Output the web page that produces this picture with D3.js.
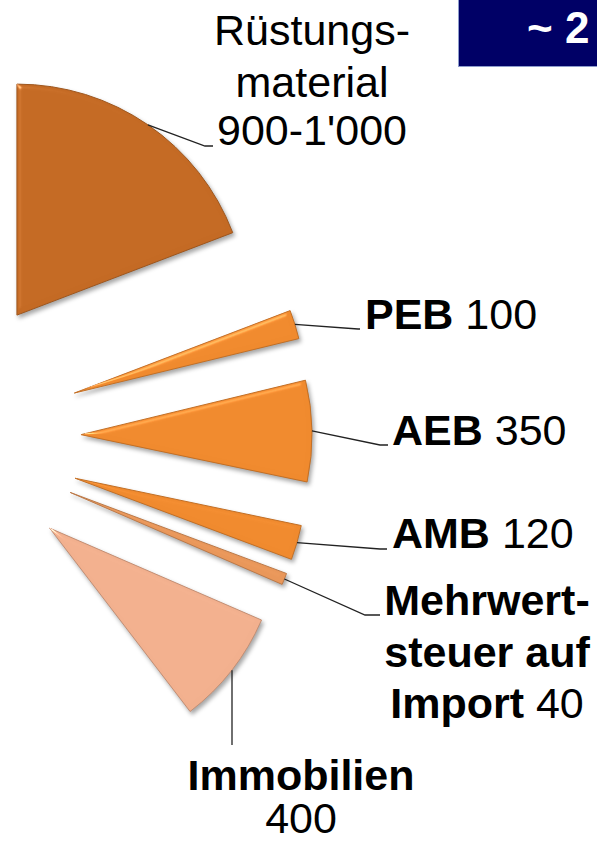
<!DOCTYPE html>
<html>
<head>
<meta charset="utf-8">
<script src="https://cdn.jsdelivr.net/npm/d3@7"></script>
<style>
  html, body { margin: 0; padding: 0; background: #fff; }
  svg { display: block; font-family: "Liberation Sans", Arial, sans-serif; }
</style>
</head>
<body>
<svg id="chart"></svg>
<script>
// data
const categories = ["Rüstungsmaterial", "PEB", "AEB", "AMB", "Mehrwertsteuer auf Import", "Immobilien"];
const values = [950, 100, 350, 120, 40, 400];
const valueLabels = ["900-1'000", "100", "350", "120", "40", "400"];
const sliceColors = ["#c46a24", "#f08a2e", "#f08a2e", "#f08a2e", "#e9975a", "#f2b08e"];

const width = 597, height = 842;
const center = {x: -67, y: 437};   // pie centre sits off the left edge
const radius = 231;
const explode = 148;
const pieTotal = 4950;             // full circle, only part of it is shown

const svg = d3.select("#chart").attr("width", width).attr("height", height);

const defs = svg.append("defs");
const f = defs.append("filter").attr("id", "bevel")
    .attr("x", "-20%").attr("y", "-20%").attr("width", "140%").attr("height", "140%")
    .attr("color-interpolation-filters", "sRGB");
f.append("feGaussianBlur").attr("in", "SourceAlpha").attr("stdDeviation", 2.5).attr("result", "blur");
f.append("feSpecularLighting").attr("in", "blur").attr("surfaceScale", 3)
    .attr("specularConstant", 0.5).attr("specularExponent", 40)
    .attr("lighting-color", "#fff").attr("result", "spec")
  .append("feDistantLight").attr("azimuth", 225).attr("elevation", 35);
f.append("feComposite").attr("in", "spec").attr("in2", "SourceAlpha").attr("operator", "in").attr("result", "specIn");
f.append("feComposite").attr("in", "SourceGraphic").attr("in2", "specIn")
    .attr("operator", "arithmetic").attr("k1", 0).attr("k2", 1).attr("k3", 0.8).attr("k4", 0).attr("result", "lit");
f.append("feGaussianBlur").attr("in", "SourceAlpha").attr("stdDeviation", 2).attr("result", "sblur");
f.append("feOffset").attr("in", "sblur").attr("dx", 2).attr("dy", 3).attr("result", "soff");
f.append("feFlood").attr("flood-color", "#000").attr("flood-opacity", 0.35);
f.append("feComposite").attr("in2", "soff").attr("operator", "in").attr("result", "shadow");
const merge = f.append("feMerge");
merge.append("feMergeNode").attr("in", "shadow");
merge.append("feMergeNode").attr("in", "lit");

const angle = d3.scaleLinear().domain([0, pieTotal]).range([0, 2 * Math.PI]);

let acc = 0;
const slices = values.map((v, i) => {
  const s = {name: categories[i], value: v, startAngle: angle(acc), endAngle: angle(acc + v)};
  acc += v;
  s.mid = (s.startAngle + s.endAngle) / 2;
  s.dx = Math.sin(s.mid);
  s.dy = -Math.cos(s.mid);
  return s;
});

const arc = d3.arc().innerRadius(0).outerRadius(radius);

const g = svg.append("g").attr("transform", `translate(${center.x},${center.y})`);

g.selectAll("path.slice")
  .data(slices)
  .join("path")
  .attr("class", "slice")
  .attr("transform", d => `translate(${d.dx * explode},${d.dy * explode})`)
  .attr("d", arc)
  .attr("fill", (d, i) => sliceColors[i])
  .attr("stroke", (d, i) => d3.color(sliceColors[i]).darker(0.6))
  .attr("stroke-width", 1)
  .attr("filter", "url(#bevel)");

// leader lines: from arc edge to label
const leaders = [
  [[205, 146], [213, 146]],
  [[358, 329], [360, 329]],
  [[380, 445], [388, 445]],
  [[380, 549], [387, 549]],
  [[365, 615], [380, 615]],
  [[232, 745]]
];

const line = d3.line();
svg.selectAll("path.leader")
  .data(slices)
  .join("path")
  .attr("class", "leader")
  .attr("d", (d, i) => {
    const r = explode + radius;
    let start = [center.x + d.dx * r, center.y + d.dy * r];
    const pts = leaders[i];
    if (i === 5) start = [pts[0][0], center.y + d.dy * r];
    return line([start, ...pts]);
  })
  .attr("fill", "none")
  .attr("stroke", "#222")
  .attr("stroke-width", 1.3);

// labels
const fs = 43;
const labelSpec = [
  {x: 312, anchor: "middle", lines: [[["Rüstungs-", 400]], [["material", 400]], [[valueLabels[0], 400]]], y: [45, 97, 145]},
  {x: 365, anchor: "start", lines: [[["PEB", 700], [" " + valueLabels[1], 400]]], y: [329]},
  {x: 392, anchor: "start", lines: [[["AEB", 700], [" " + valueLabels[2], 400]]], y: [445]},
  {x: 392, anchor: "start", lines: [[["AMB", 700], [" " + valueLabels[3], 400]]], y: [548]},
  {x: 487, anchor: "middle", lines: [[["Mehrwert-", 700]], [["steuer auf", 700]], [["Import", 700], [" " + valueLabels[4], 400]]], y: [615, 667, 718]},
  {x: 301, anchor: "middle", lines: [[["Immobilien", 700]], [[valueLabels[5], 400]]], y: [790, 833]}
];

labelSpec.forEach(spec => {
  spec.lines.forEach((parts, li) => {
    const t = svg.append("text")
      .attr("x", spec.x)
      .attr("y", spec.y[li])
      .attr("text-anchor", spec.anchor)
      .attr("font-size", fs)
      .attr("fill", "#000");
    parts.forEach(p => {
      t.append("tspan").attr("font-weight", p[1]).text(p[0]);
    });
  });
});

// navy box top right
svg.append("rect")
  .attr("x", 458.5).attr("y", -2).attr("width", 145).attr("height", 68.5)
  .attr("fill", "#000066").attr("stroke", "#8d9ccc").attr("stroke-width", 1);
svg.append("text")
  .attr("x", 527).attr("y", 43)
  .attr("font-size", 44).attr("font-weight", 700)
  .attr("fill", "#fff")
  .text("~ 2");
</script>
</body>
</html>
